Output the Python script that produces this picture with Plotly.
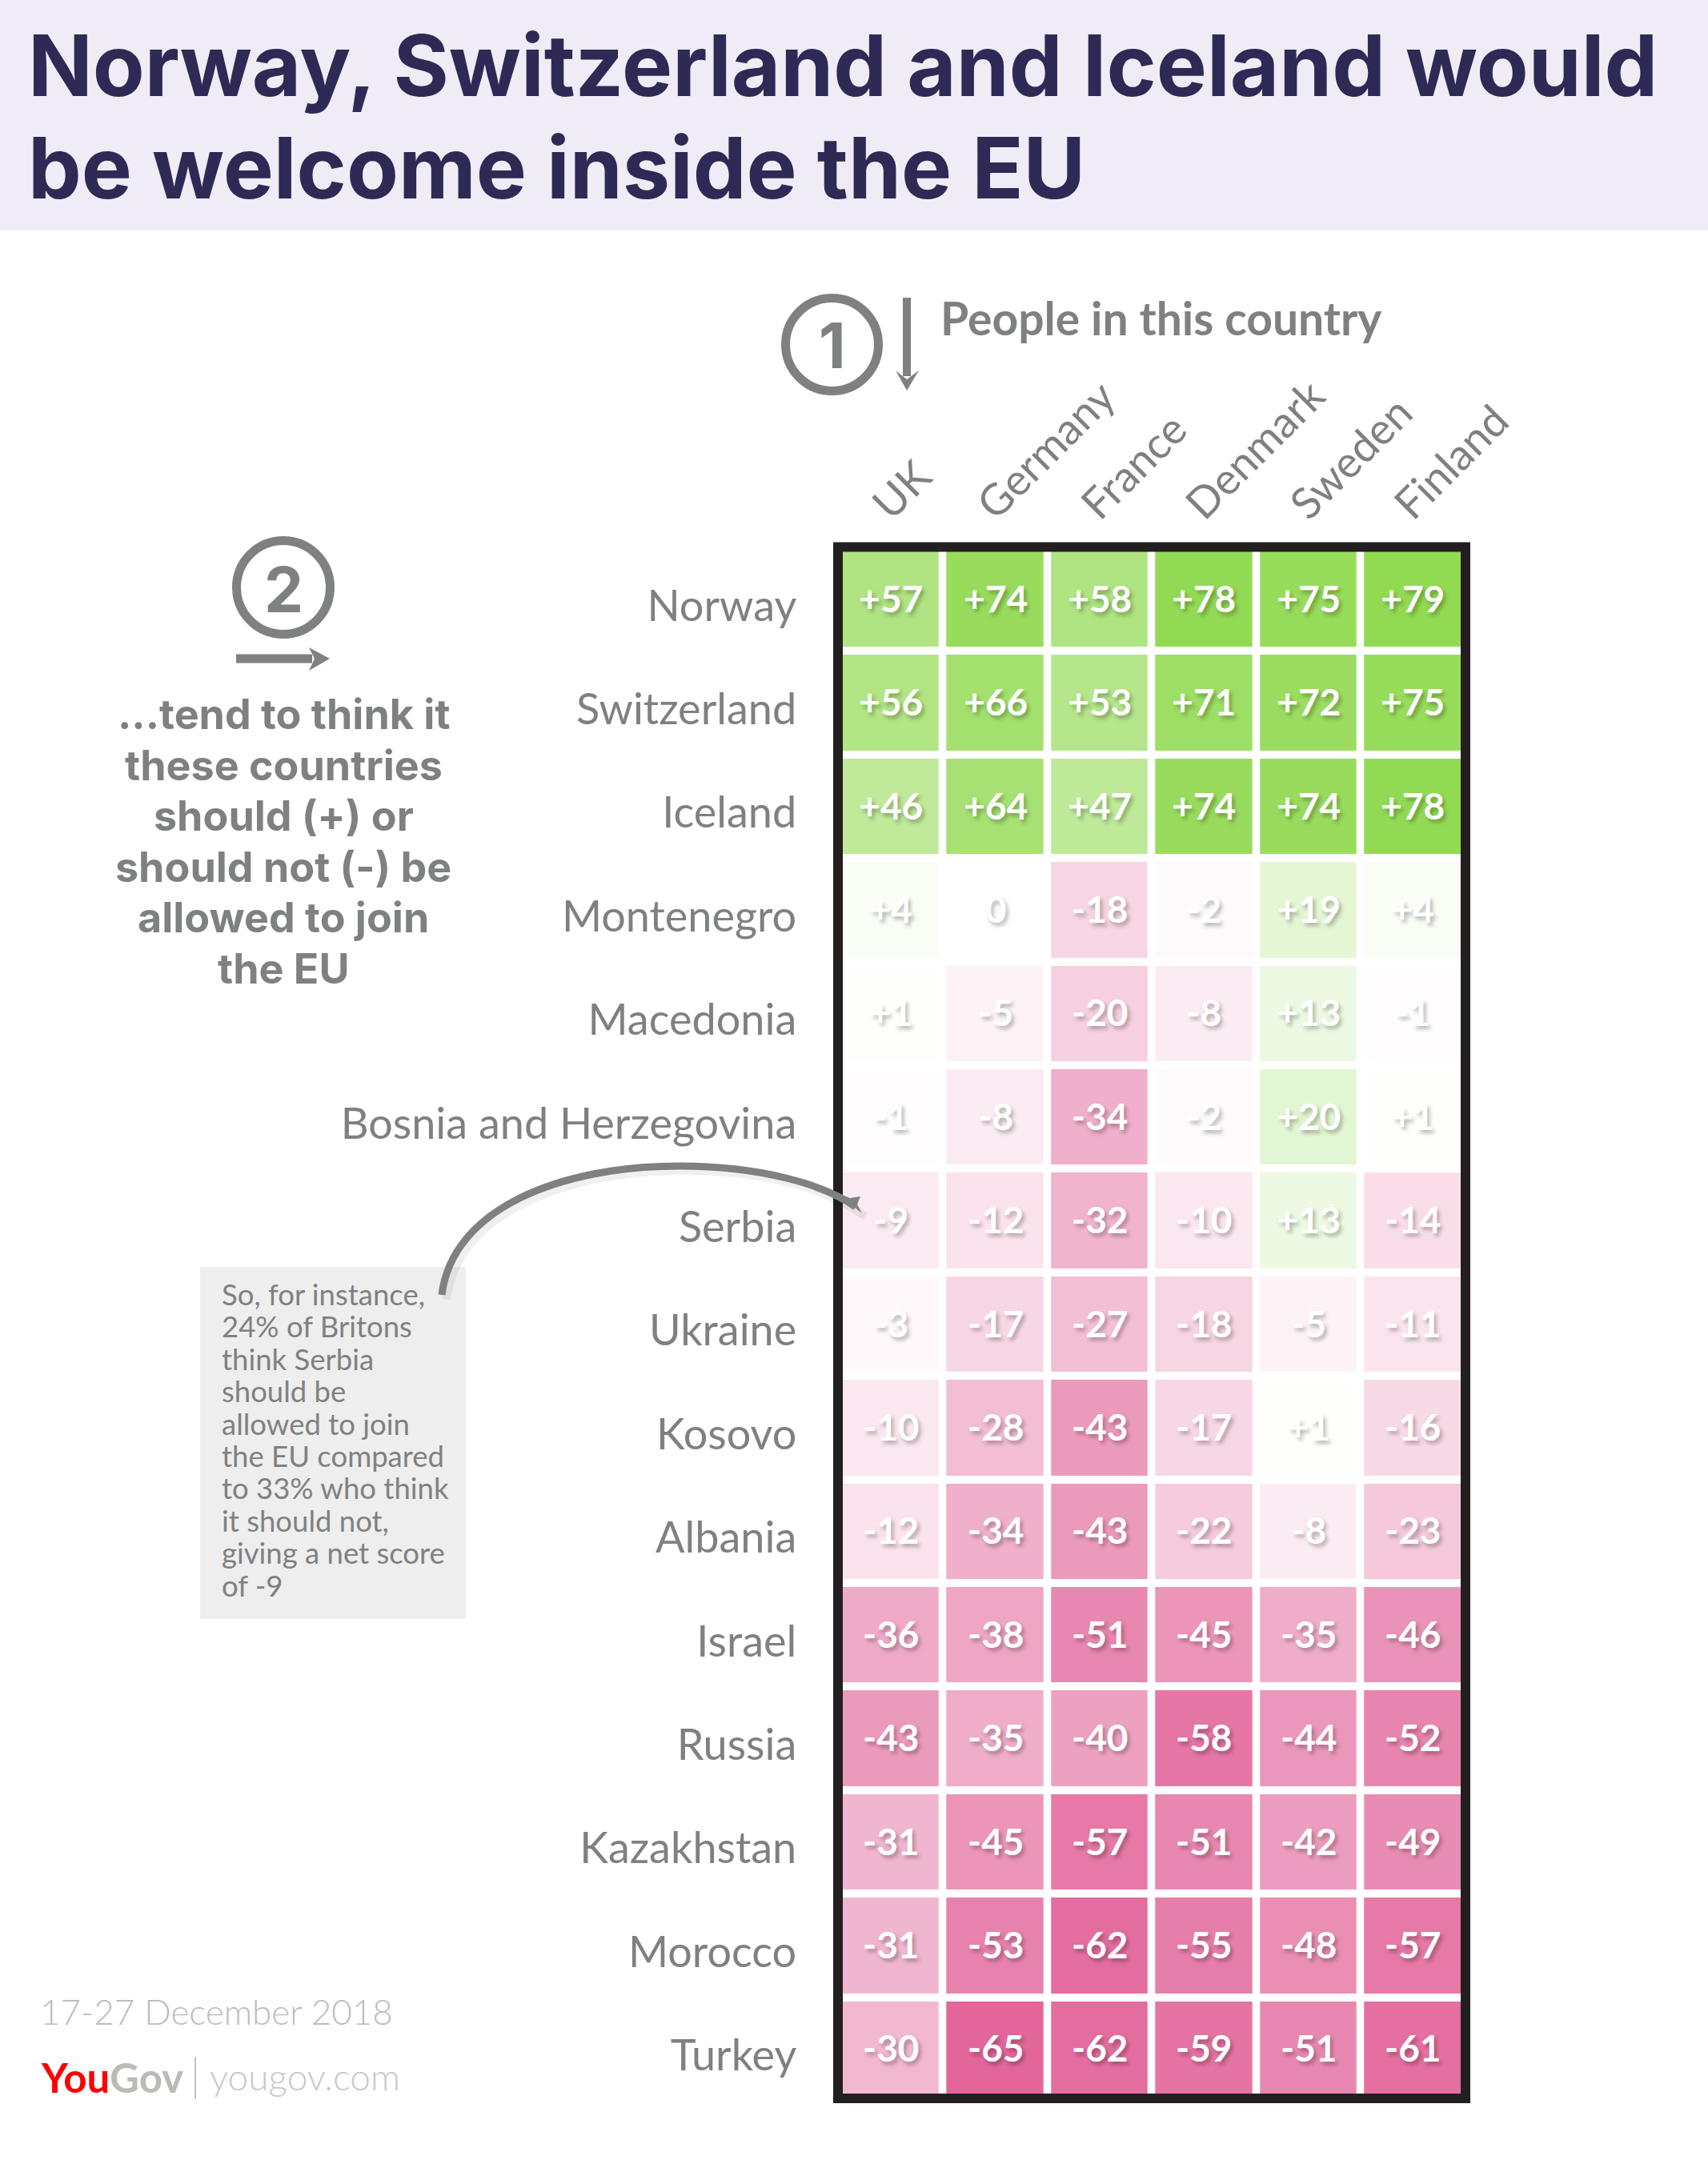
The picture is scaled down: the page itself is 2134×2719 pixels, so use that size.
import plotly.graph_objects as go

W, H = 2134, 2719
GREY = "#7f8180"

# rows, top to bottom
targets = ["Norway", "Switzerland", "Iceland", "Montenegro", "Macedonia",
           "Bosnia and Herzegovina", "Serbia", "Ukraine", "Kosovo", "Albania",
           "Israel", "Russia", "Kazakhstan", "Morocco", "Turkey"]
respondents = ["UK", "Germany", "France", "Denmark", "Sweden", "Finland"]

# net score per respondent country
uk = [57, 56, 46, 4, 1, -1, -9, -3, -10, -12, -36, -43, -31, -31, -30]
germany = [74, 66, 64, 0, -5, -8, -12, -17, -28, -34, -38, -35, -45, -53, -65]
france = [58, 53, 47, -18, -20, -34, -32, -27, -43, -43, -51, -40, -57, -62, -62]
denmark = [78, 71, 74, -2, -8, -2, -10, -18, -17, -22, -45, -58, -51, -55, -59]
sweden = [75, 72, 74, 19, 13, 20, 13, -5, 1, -8, -35, -44, -42, -48, -51]
finland = [79, 75, 78, 4, -1, 1, -14, -11, -16, -23, -46, -52, -49, -57, -61]

side_lines = ["...tend to think it", "these countries", "should (+) or",
              "should not (-) be", "allowed to join", "the EU"]
note_lines = ["So, for instance,", "24% of Britons", "think Serbia", "should be",
              "allowed to join", "the EU compared", "to 33% who think",
              "it should not,", "giving a net score", "of -9"]

columns = [uk, germany, france, denmark, sweden, finland]
z = [[col[r] for col in columns] for r in range(len(targets))]
labels = [[f"{v:+d}" if v else "0" for v in row] for row in z]


def px(x):
    return x / W


def py(y):
    return 1 - y / H


def label(text, x, y, size, color=GREY, anchor="center", weight=400, family="Lato"):
    fig.add_annotation(text=text, x=px(x), y=py(y), xref="paper", yref="paper", showarrow=False,
                       xanchor=anchor, yanchor="middle", align=anchor,
                       font=dict(family=family, size=size, color=color, weight=weight))


def rect(x0, y0, x1, y1, **kw):
    fig.add_shape(type="rect", xref="paper", yref="paper", x0=px(x0), y0=py(y0), x1=px(x1), y1=py(y1), **kw)


def path(points, closed=False, **kw):
    d = "M " + " L ".join(f"{px(a):.5f},{py(b):.5f}" for a, b in points) + (" Z" if closed else "")
    fig.add_shape(type="path", xref="paper", yref="paper", path=d, **kw)


def curve(start, beziers, **kw):
    d = f"M {px(start[0]):.5f},{py(start[1]):.5f}"
    for seg in beziers:
        d += " C " + " ".join(f"{px(a):.5f},{py(b):.5f}" for a, b in seg)
    fig.add_shape(type="path", xref="paper", yref="paper", path=d, **kw)


def circle(cx, cy, r, width):
    fig.add_shape(type="circle", xref="paper", yref="paper", x0=px(cx - r), x1=px(cx + r),
                  y0=py(cy - r), y1=py(cy + r), line=dict(color=GREY, width=width))


fig = go.Figure(go.Heatmap(
    z=z, x=respondents, y=targets, text=labels, texttemplate="%{text}",
    textfont=dict(family="Lato", size=46, color="white", weight=700,
                  shadow="3px 4px 5px rgba(0,0,0,0.28)"),
    colorscale=[[0, "#e2669a"], [65 / 144, "#ffffff"], [1, "#92da52"]],
    zmin=-65, zmax=79, showscale=False, xgap=9.5, ygap=10, hoverinfo="skip"))

fig.update_layout(
    width=W, height=H, margin=dict(l=0, r=0, t=0, b=0), paper_bgcolor="white", plot_bgcolor="white",
    xaxis=dict(domain=[px(1048.25), px(1830.75)], side="top", tickangle=-45, showgrid=False, zeroline=False,
               automargin=False, ticks="", ticklabelstandoff=12, ticklabelshift=-19,
               tickfont=dict(family="Lato", size=54, color=GREY)),
    yaxis=dict(domain=[py(2625), py(684)], autorange="reversed", showgrid=False, zeroline=False,
               automargin=False, ticks="", ticklabelstandoff=52, ticklabelshift=-8,
               tickfont=dict(family="Lato", size=54, color=GREY)),
)

# title band
rect(0, 0, W, 288, fillcolor="#efecf6", line_width=0, layer="below")
label("Norway, Switzerland and Iceland would", 33, 82, 106, color="#2e2a55", anchor="left", weight=700, family="Inter")
label("be welcome inside the EU", 33, 210, 106, color="#2e2a55", anchor="left", weight=700, family="Inter")

# frame round the grid
rect(1047, 683.5, 1831, 2622, line=dict(color="#231f20", width=12))

# step 1
circle(1039.5, 430.5, 58, 11)
label("1", 1039.5, 432, 78, weight=700, family="Inter")
rect(1128, 372, 1138, 470, fillcolor=GREY, line_width=0)
path([(1119, 463), (1133, 474), (1148, 463), (1133, 488)], closed=True, fillcolor=GREY, line_width=0)
label("People in this country", 1173, 397, 57, anchor="left", weight=700)

# step 2
circle(354, 734, 58.5, 11)
label("2", 354, 736, 78, weight=700, family="Inter")
rect(295, 817.5, 390, 828.5, fillcolor=GREY, line_width=0)
path([(386, 809), (393, 823), (386, 838), (412, 823)], closed=True, fillcolor=GREY, line_width=0)
for i, line in enumerate(side_lines):
    label(line, 354, 893 + i * 63.4, 52, weight=700, family="Inter")

# worked example box
rect(250, 1583, 582, 2023, fillcolor="#eeeeee", line_width=0)
for i, line in enumerate(note_lines):
    label(line, 275, 1617 + i * 40.4, 36.5, anchor="left")

# arrow from the box to the UK/Serbia cell
curve((558, 1624), [[(571, 1516), (706, 1463), (855, 1463)], [(956, 1463), (1036, 1486), (1081, 1520)]],
      line=dict(color="rgba(0,0,0,0.06)", width=10))
curve((552, 1618), [[(565, 1510), (700, 1457), (849, 1457)], [(950, 1457), (1030, 1480), (1069, 1508)]],
      line=dict(color=GREY, width=9))
path([(1044, 1490), (1062, 1497), (1075, 1495), (1071, 1505), (1077, 1516)], closed=True, fillcolor=GREY, line_width=0)

# footer
label("17-27 December 2018", 48, 2513, 44, color="#bdbdbd", anchor="left", weight=300)
label('<b><span style="color:#ff0000">You</span>Gov</b>', 49, 2595, 51, color="#b9bcb5", anchor="left")
rect(243, 2570, 245, 2623, fillcolor="#c4c4c0", line_width=0)
label("yougov.com", 260, 2594, 46, color="#c8c8c4", anchor="left", weight=300)

fig.write_html("out.html", config={"displayModeBar": False},
               post_script="document.body.style.margin='0';document.body.style.overflow='hidden';")
